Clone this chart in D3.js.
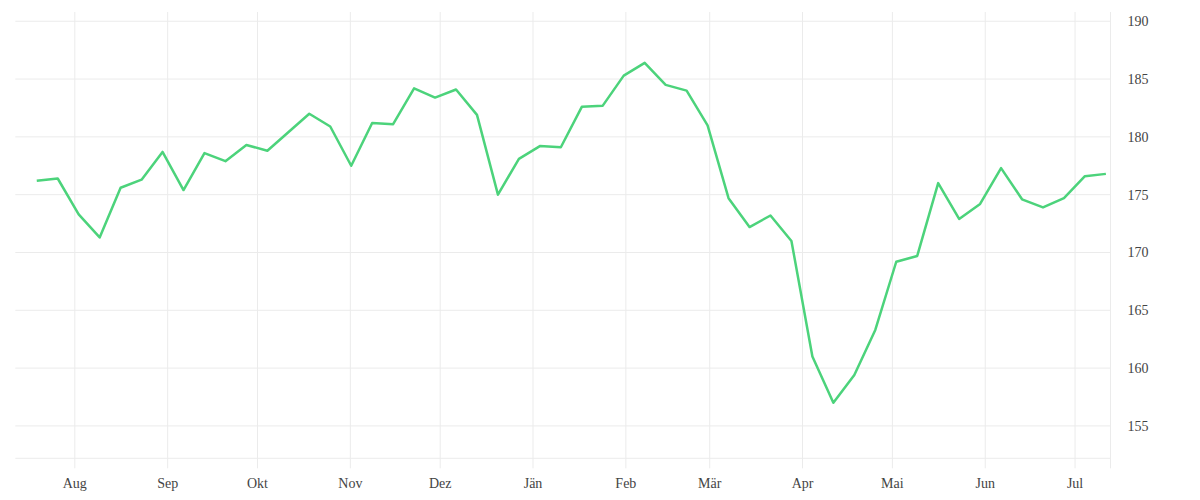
<!DOCTYPE html>
<html>
<head>
<meta charset="utf-8">
<script src="https://cdn.jsdelivr.net/npm/d3@7"></script>
<style>
  body { margin: 0; background: #fff; }
  text { font-family: "Liberation Serif", serif; }
</style>
</head>
<body>
<div id="chart"></div>
<script>
// weekly dates
var dates = [
  "2022-07-19","2022-07-26","2022-08-02","2022-08-09","2022-08-16","2022-08-23","2022-08-30",
  "2022-09-06","2022-09-13","2022-09-20","2022-09-27","2022-10-04","2022-10-11","2022-10-18",
  "2022-10-25","2022-11-01","2022-11-08","2022-11-15","2022-11-22","2022-11-29","2022-12-06",
  "2022-12-13","2022-12-20","2022-12-27","2023-01-03","2023-01-10","2023-01-17","2023-01-24",
  "2023-01-31","2023-02-07","2023-02-14","2023-02-21","2023-02-28","2023-03-07","2023-03-14",
  "2023-03-21","2023-03-28","2023-04-04","2023-04-11","2023-04-18","2023-04-25","2023-05-02",
  "2023-05-09","2023-05-16","2023-05-23","2023-05-30","2023-06-06","2023-06-13","2023-06-20",
  "2023-06-27","2023-07-04","2023-07-11"
]
var values = [
  176.2, 176.4, 173.3, 171.3, 175.6, 176.3, 178.7,
  175.4, 178.6, 177.9, 179.3, 178.8, 180.4, 182.0,
  180.9, 177.5, 181.2, 181.1, 184.2, 183.4, 184.1,
  181.9, 175.0, 178.1, 179.2, 179.1, 182.6, 182.7,
  185.3, 186.4, 184.5, 184.0, 181.0, 174.7, 172.2,
  173.2, 171.0, 161.0, 157.0, 159.4, 163.3, 169.2,
  169.7, 176.0, 172.9, 174.2, 177.3, 174.6, 173.9,
  174.7, 176.6, 176.8
]
var monthLabels = ["Jän","Feb","Mär","Apr","Mai","Jun","Jul","Aug","Sep","Okt","Nov","Dez"]
var yTicks = [155, 160, 165, 170, 175, 180, 185, 190]

var width = 1200
var height = 500
var plotLeft = 15.3, plotRight = 1110.5, plotTop = 12, plotBottom = 458.3

var parseDate = d3.timeParse("%Y-%m-%d %H")
var data = dates.map(function (d, i) { return { date: parseDate(d + " 11"), value: values[i] } })

var svg = d3.select("#chart").append("svg")
    .attr("width", width)
    .attr("height", height)

var x = d3.scaleTime()
    .domain([new Date(2022, 6, 12, 7), new Date(2023, 6, 13, 0)])
    .range([plotLeft, plotRight])

var y = d3.scaleLinear()
    .domain([152.2, 190.8])
    .range([plotBottom, plotTop])

var gridColor = "#ebebeb"

// horizontal grid
svg.append("g").selectAll("line")
    .data(yTicks)
    .enter()
    .append("line")
    .attr("x1", plotLeft)
    .attr("x2", plotRight)
    .attr("y1", function (d) { return y(d) })
    .attr("y2", function (d) { return y(d) })
    .attr("stroke", gridColor)
    .attr("stroke-width", 1)

// bottom axis line
svg.append("line")
    .attr("x1", plotLeft).attr("x2", plotRight)
    .attr("y1", plotBottom).attr("y2", plotBottom)
    .attr("stroke", gridColor)

// x axis (month ticks, grid lines go up through the plot)
var xAxis = d3.axisBottom(x)
    .ticks(d3.timeMonth.every(1))
    .tickSize(plotBottom - plotTop + 10)
    .tickPadding(10)
    .tickFormat(function (d) { return monthLabels[d.getMonth()] })

var gx = svg.append("g")
    .attr("transform", "translate(0," + plotTop + ")")
    .call(xAxis)
gx.select(".domain").remove()
gx.selectAll(".tick line").attr("stroke", gridColor)
gx.selectAll(".tick text")
    .attr("fill", "#444")
    .style("font-size", "14px")
    .style("font-family", "'Liberation Serif', serif")

// right axis line
svg.append("line")
    .attr("x1", plotRight).attr("x2", plotRight)
    .attr("y1", plotTop).attr("y2", plotBottom + 10)
    .attr("stroke", gridColor)

// y axis labels on the right
var yAxis = d3.axisRight(y)
    .tickValues(yTicks)
    .tickSize(0)
    .tickPadding(17)

var gy = svg.append("g")
    .attr("transform", "translate(" + plotRight + ",0)")
    .call(yAxis)
gy.select(".domain").remove()
gy.selectAll(".tick text")
    .attr("fill", "#444")
    .style("font-size", "14px")
    .style("font-family", "'Liberation Serif', serif")

// the line
var line = d3.line()
    .x(function (d) { return x(d.date) })
    .y(function (d) { return y(d.value) })

svg.append("path")
    .datum(data)
    .attr("fill", "none")
    .attr("stroke", "#4cd37b")
    .attr("stroke-width", 2.5)
    .attr("stroke-linejoin", "round")
    .attr("d", line)
</script>
</body>
</html>
